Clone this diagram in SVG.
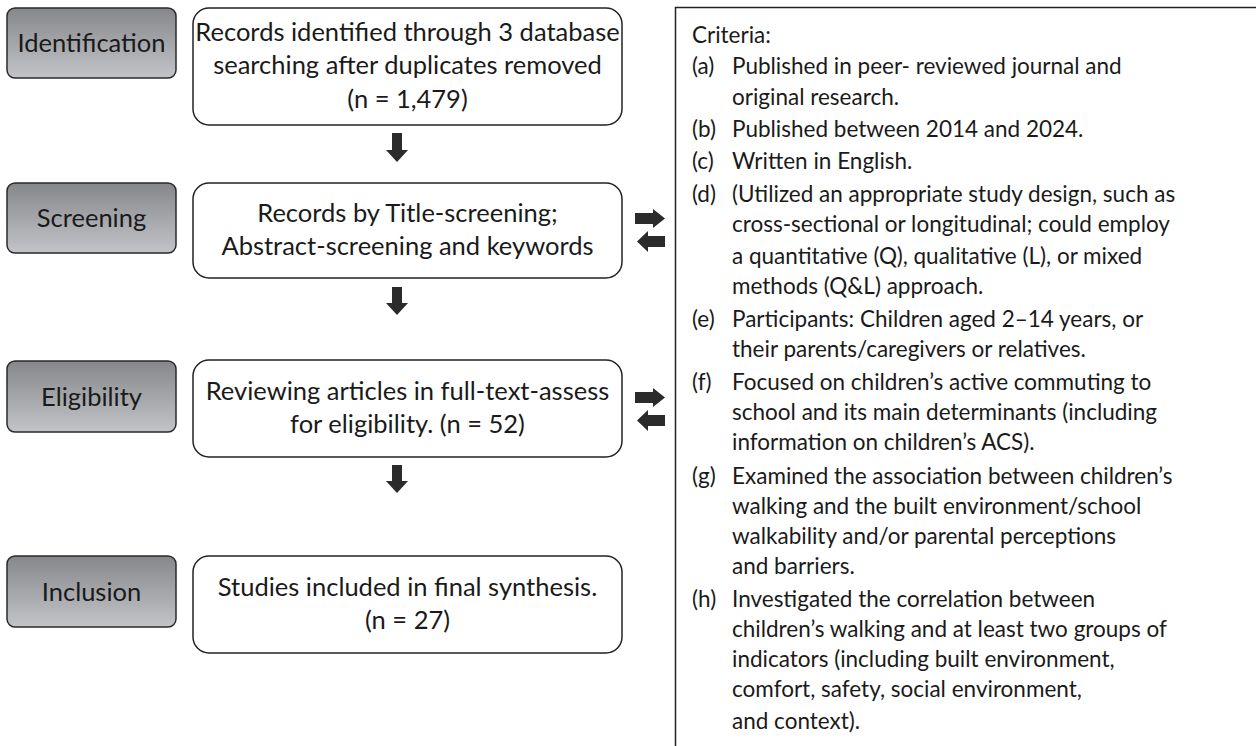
<svg xmlns="http://www.w3.org/2000/svg" width="1256" height="746" viewBox="0 0 1256 746">
<defs>
<linearGradient id="gg" x1="0" y1="0" x2="0" y2="1">
<stop offset="0" stop-color="#86878a"/>
<stop offset="1" stop-color="#c3c4c8"/>
</linearGradient>
<style>
.stage{fill:url(#gg);stroke:#2a2a2a;stroke-width:1.5}
.box{fill:#fff;stroke:#222;stroke-width:1.5}
.t{font-family:Lato,"Liberation Sans",sans-serif;font-size:25.5px;fill:#1a1a1a;text-anchor:middle}
.c{font-family:Lato,"Liberation Sans",sans-serif;font-size:22.5px;fill:#1a1a1a}
.arr{fill:#2b2b2b}
</style>
</defs>
<rect width="1256" height="746" fill="#fff"/>

<g id="stage-identification"><rect class="stage" x="7" y="8" width="169" height="70" rx="8"/><text class="t" x="91.5" y="52">Identification</text></g>
<g id="stage-screening"><rect class="stage" x="7" y="183" width="169" height="70" rx="8"/><text class="t" x="91.5" y="227">Screening</text></g>
<g id="stage-eligibility"><rect class="stage" x="7" y="361" width="169" height="71" rx="8"/><text class="t" x="91.5" y="406">Eligibility</text></g>
<g id="stage-inclusion"><rect class="stage" x="7" y="556" width="169" height="71" rx="8"/><text class="t" x="91.5" y="601">Inclusion</text></g>

<g id="box-identified"><rect class="box" x="193" y="8" width="429" height="117" rx="16"/>
<text class="t" x="407.5" y="41">Records identified through 3 database</text>
<text class="t" x="407.5" y="74">searching after duplicates removed</text>
<text class="t" x="407.5" y="108">(n = 1,479)</text></g>
<g id="box-screening"><rect class="box" x="193" y="183" width="429" height="95" rx="16"/>
<text class="t" x="407.5" y="222">Records by Title-screening;</text>
<text class="t" x="407.5" y="255">Abstract-screening and keywords</text></g>
<g id="box-eligibility"><rect class="box" x="193" y="360" width="429" height="97" rx="16"/>
<text class="t" x="407.5" y="400">Reviewing articles in full-text-assess</text>
<text class="t" x="407.5" y="433">for eligibility. (n = 52)</text></g>
<g id="box-inclusion"><rect class="box" x="193" y="556" width="429" height="97" rx="16"/>
<text class="t" x="407.5" y="596">Studies included in final synthesis.</text>
<text class="t" x="407.5" y="629">(n = 27)</text></g>

<g id="criteria">
<path d="M1256 7.5H675.5V746" fill="none" stroke="#222" stroke-width="1.5"/>
<text class="c" x="692" y="43">Criteria:</text>
<text class="c" x="692" y="74">(a)</text><text class="c" x="732" y="74">Published in peer- reviewed journal and</text>
<text class="c" x="732" y="105">original research.</text>
<text class="c" x="692" y="137">(b)</text><text class="c" x="732" y="137">Published between 2014 and 2024.</text>
<text class="c" x="692" y="169">(c)</text><text class="c" x="732" y="169">Written in English.</text>
<text class="c" x="692" y="202">(d)</text><text class="c" x="732" y="202">(Utilized an appropriate study design, such as</text>
<text class="c" x="732" y="232">cross-sectional or longitudinal; could employ</text>
<text class="c" x="732" y="264">a quantitative (Q), qualitative (L), or mixed</text>
<text class="c" x="732" y="294">methods (Q&amp;L) approach.</text>
<text class="c" x="692" y="327">(e)</text><text class="c" x="732" y="327">Participants: Children aged 2–14 years, or</text>
<text class="c" x="732" y="357">their parents/caregivers or relatives.</text>
<text class="c" x="692" y="390">(f)</text><text class="c" x="732" y="390">Focused on children’s active commuting to</text>
<text class="c" x="732" y="420">school and its main determinants (including</text>
<text class="c" x="732" y="450">information on children’s ACS).</text>
<text class="c" x="692" y="484">(g)</text><text class="c" x="732" y="484">Examined the association between children’s</text>
<text class="c" x="732" y="514">walking and the built environment/school</text>
<text class="c" x="732" y="544">walkability and/or parental perceptions</text>
<text class="c" x="732" y="574">and barriers.</text>
<text class="c" x="692" y="607">(h)</text><text class="c" x="732" y="607">Investigated the correlation between</text>
<text class="c" x="732" y="637">children’s walking and at least two groups of</text>
<text class="c" x="732" y="667">indicators (including built environment,</text>
<text class="c" x="732" y="697">comfort, safety, social environment,</text>
<text class="c" x="732" y="729">and context).</text>
</g>

<g id="connectors">
<polygon class="arr" points="392,133 402,133 402,150 408,150 397,162 386,150 392,150"/>
<polygon class="arr" points="392,287 402,287 402,303 408,303 397,315 386,303 392,303"/>
<polygon class="arr" points="392,465 402,465 402,481 408,481 397,493 386,481 392,481"/>
<polygon class="arr" points="635,213 653,213 653,209 665,218.5 653,228 653,224 635,224"/>
<polygon class="arr" points="665,236 648,236 648,231 637,241.5 648,252 648,247 665,247"/>
<polygon class="arr" points="635,392 653,392 653,388 665,397.5 653,407 653,403 635,403"/>
<polygon class="arr" points="665,415 648,415 648,410 637,420.5 648,431 648,426 665,426"/>
</g>
</svg>
